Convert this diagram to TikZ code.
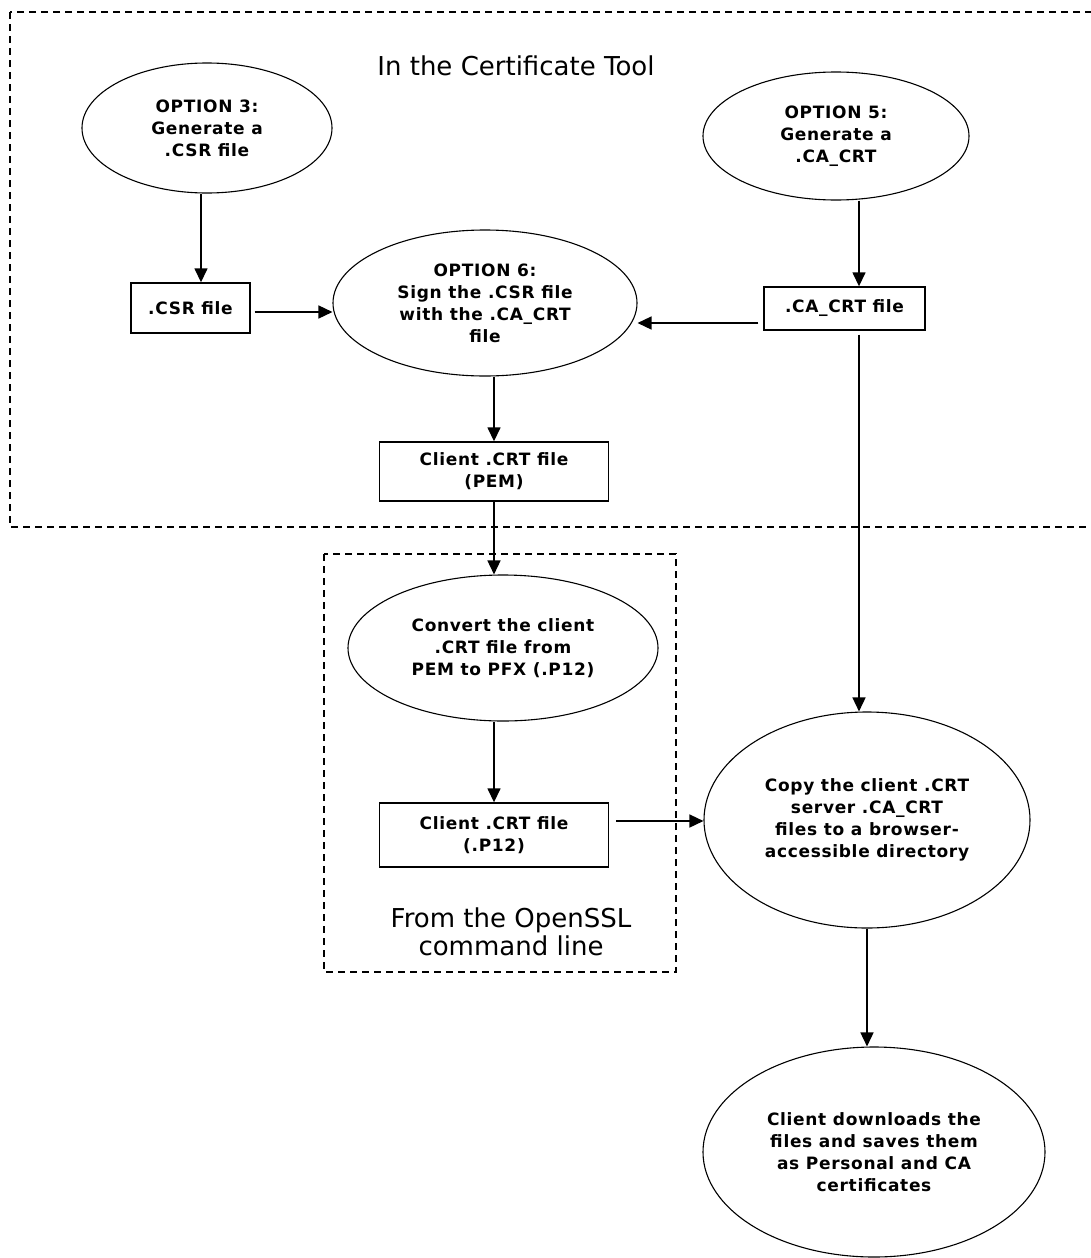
\documentclass[tikz,border=0pt]{standalone}
\usepackage{fontspec}
\setmainfont{DejaVu Sans}
\newfontfamily\lblfont{DejaVu Sans}[LetterSpace=4]
\usetikzlibrary{shapes.geometric,arrows.meta}

\tikzset{
    oval/.style={draw, ellipse, line width=1.1pt, inner sep=0pt, align=center,
        font=\lblfont\bfseries\fontsize{17}{22}\selectfont},
    filebox/.style={draw, rectangle, line width=1.4pt, inner sep=0pt, align=center,
        font=\lblfont\bfseries\fontsize{17}{22}\selectfont},
    arr/.style={-{Triangle[width=13pt,length=14pt]}, line width=1.5pt},
    zone/.style={line width=1.4pt, dash pattern=on 7pt off 5pt},
    zonelabel/.style={align=center, font=\fontsize{26}{28}\selectfont}
}

\begin{document}
\begin{tikzpicture}[x=1pt, y=-1pt]
    \useasboundingbox[fill=white] (0,0) rectangle (1091,1258);

    % Regions
    \draw[zone] (10,12) rectangle (1110,527);
    \draw[zone] (324,554) rectangle (676,972);
    \node[zonelabel] (tooltitle) at (516,66) {In the Certificate Tool};
    \node[zonelabel] (ssltitle) at (511,932) {From the OpenSSL\\command line};

    % Steps in the certificate tool
    \node[oval, minimum width=250pt, minimum height=130pt] (opt3) at (207,128)
        {OPTION 3:\\Generate a\\.CSR file};
    \node[filebox, minimum width=119pt, minimum height=50pt] (csr) at (190.5,308) {.CSR file};
    \node[oval, minimum width=304pt, minimum height=146pt] (sign) at (485,303)
        {OPTION 6:\\Sign the .CSR file\\with the .CA\_CRT\\file};
    \node[oval, minimum width=266pt, minimum height=128pt] (opt5) at (836,136)
        {OPTION 5:\\Generate a\\.CA\_CRT};
    \node[filebox, minimum width=161pt, minimum height=43pt] (cacrt) at (844.5,308.5) {.CA\_CRT file};
    \node[filebox, minimum width=229pt, minimum height=59pt] (pem) at (494,471.5)
        {Client .CRT file\\(PEM)};

    % Steps from the command line
    \node[oval, minimum width=310pt, minimum height=146pt] (convert) at (503,648)
        {Convert the client\\.CRT file from\\PEM to PFX (.P12)};
    \node[filebox, minimum width=229pt, minimum height=64pt] (p12) at (494,835)
        {Client .CRT file\\(.P12)};

    % Distribution
    \node[oval, minimum width=326pt, minimum height=216pt] (copy) at (867,820)
        {Copy the client .CRT\\server .CA\_CRT\\files to a browser-\\accessible directory};
    \node[oval, minimum width=342pt, minimum height=210pt] (download) at (874,1152)
        {Client downloads the\\files and saves them\\as Personal and CA\\certificates};

    % Arrows
    \draw[arr] ([xshift=-6pt]opt3.south) -- ([xshift=-6pt]opt3.south |- csr.north);
    \draw[arr] ([shift={(4pt,-4pt)}]csr.east) -- ([yshift=-4pt]csr.east -| sign.west);
    \draw[arr] ([xshift=23pt]opt5.south) -- ([xshift=23pt]opt5.south |- cacrt.north);
    \draw[arr] ([shift={(-5pt,-14.5pt)}]cacrt.west) -- ([yshift=-14.5pt]cacrt.west -| sign.east);
    \draw[arr] ([shift={(14.5pt,-4pt)}]cacrt.south) -- ([xshift=14.5pt]cacrt.south |- copy.north);
    \draw[arr] ([xshift=9pt]sign.south) -- ([xshift=9pt]sign.south |- pem.north);
    \draw[arr] (pem.south) -- (pem.south |- convert.north);
    \draw[arr] (convert.south -| p12.north) -- (p12.north);
    \draw[arr] ([shift={(7pt,14pt)}]p12.east) -- ([yshift=14pt]p12.east -| copy.west);
    \draw[arr] (copy.south) -- (copy.south |- download.north);
\end{tikzpicture}
\end{document}
